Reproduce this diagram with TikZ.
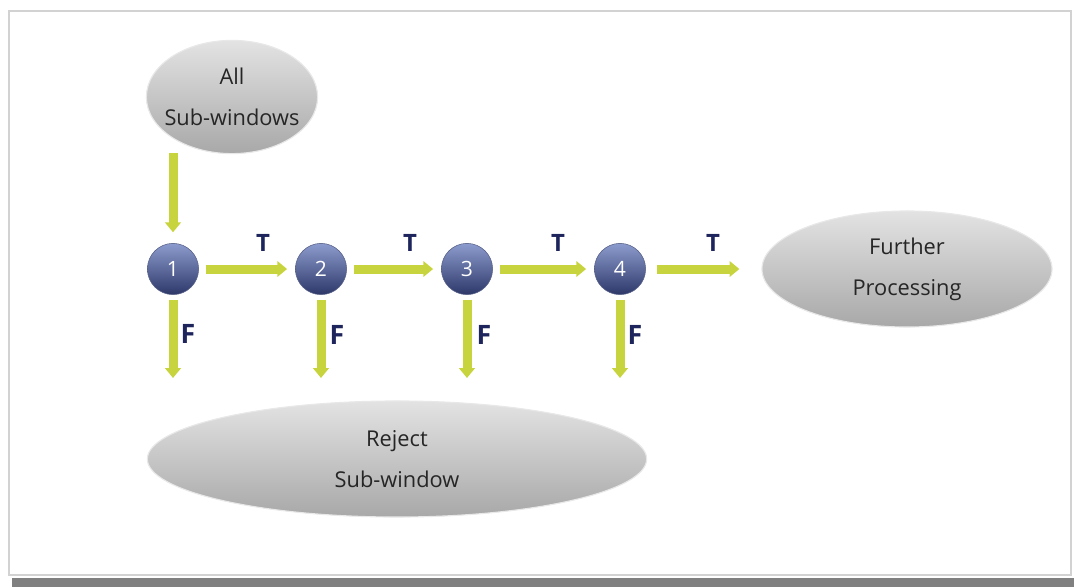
\documentclass[tikz,border=0pt]{standalone}
\usepackage{fontspec}
\setmainfont{Open Sans}
\usetikzlibrary{shapes.geometric,arrows.meta}
\definecolor{flowc}{RGB}{200,212,62}
\definecolor{navy}{RGB}{30,36,92}
\definecolor{spheretop}{RGB}{140,155,205}
\definecolor{spherebot}{RGB}{45,56,105}
\definecolor{barc}{RGB}{128,128,128}
\begin{document}
\begin{tikzpicture}[x=0.025cm,y=-0.025cm,
  blob/.style={ellipse, inner sep=0pt, top color=gray!22, bottom color=gray!68, draw=gray!18, line width=0.8pt, align=center, text=black!85, font=\fontsize{15.5}{29}\selectfont},
  stage/.style={circle, minimum size=1.28cm, inner sep=0pt, top color=spheretop, bottom color=spherebot, draw=spherebot!80, line width=0.4pt, text=white, font=\fontsize{15}{18}\selectfont},
  flow/.style={color=flowc, line width=6.4pt, -{Triangle[length=7pt,width=11pt]}, shorten <=0.17cm, shorten >=0.2cm},
  tlab/.style={text=navy, font=\bfseries\fontsize{17}{18}\selectfont},
  flab/.style={text=navy, font=\bfseries\fontsize{19}{22}\selectfont}]
\useasboundingbox (0,0) rectangle (1074,587);
% frame and bar
\draw[gray!35, line width=0.8pt] (9,11) rectangle (1071,575);
\fill[barc] (12,578) rectangle (1074,587);
% ellipses
\node[blob, inner xsep=-0.2cm, minimum width=4.28cm, minimum height=2.83cm] (all) at (232,97) {All\\Sub-windows};
\node[blob, minimum width=7.25cm, minimum height=2.9cm] (fp) at (907,269) {Further\\Processing};
\node[blob, minimum width=12.48cm, minimum height=2.9cm] (rej) at (397,459) {Reject\\Sub-window};
% stages
\node[stage] (c1) at (173,269) {1};
\node[stage] (c2) at (321,269) {2};
\node[stage] (c3) at (467,269) {3};
\node[stage] (c4) at (620,269) {4};
\coordinate (a1) at (173,153);
\coordinate (f1) at (173,378);
\coordinate (f2) at (321,378);
\coordinate (f3) at (467,378);
\coordinate (f4) at (620,378);
% arrows
\draw[flow, shorten <=0cm, shorten >=0.27cm] (a1) -- (c1);
\draw[flow] (c1) -- (c2);
\draw[flow] (c2) -- (c3);
\draw[flow] (c3) -- (c4);
\draw[flow, shorten <=0.27cm, shorten >=0.55cm] (c4) -- (fp);
\draw[flow, shorten <=0.12cm, shorten >=0cm] (c1) -- (f1);
\draw[flow, shorten <=0.12cm, shorten >=0cm] (c2) -- (f2);
\draw[flow, shorten <=0.12cm, shorten >=0cm] (c3) -- (f3);
\draw[flow, shorten <=0.12cm, shorten >=0cm] (c4) -- (f4);
% labels
\node[tlab] (t1) at (263,243) {T};
\node[tlab] (t2) at (410,243) {T};
\node[tlab] (t3) at (558,243) {T};
\node[tlab] (t4) at (713,243) {T};
\node[flab] (e1) at (188,334) {F};
\node[flab] (e2) at (337,335) {F};
\node[flab] (e3) at (484,335) {F};
\node[flab] (e4) at (635,335) {F};
\end{tikzpicture}
\end{document}
